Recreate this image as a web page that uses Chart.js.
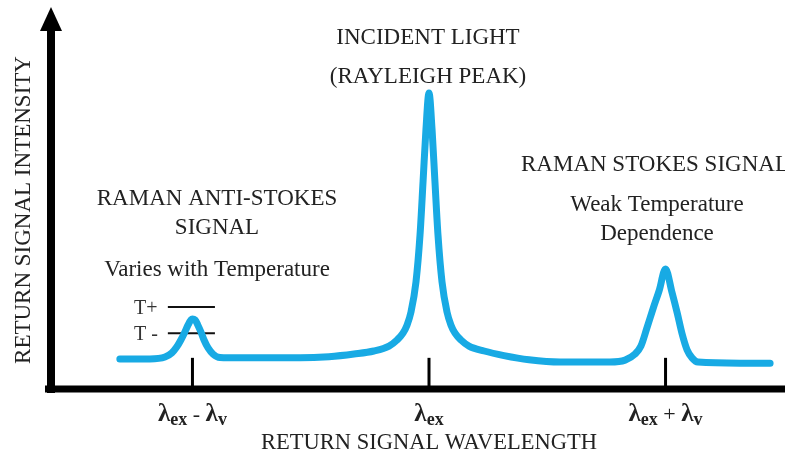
<!DOCTYPE html>
<html>
<head>
<meta charset="utf-8">
<script src="https://cdn.jsdelivr.net/npm/chart.js@4.4.0/dist/chart.umd.min.js"></script>
<style>
  html, body { margin: 0; padding: 0; background: #fff; }
  #chart { display: block; }
</style>
</head>
<body>
<canvas id="chart" width="785" height="455"></canvas>
<script>
// wavelength offset in units of the vibrational shift (0 = excitation line)
const waveX = [
  -1.307, -1.180, -1.116, -1.087, -1.066, -1.049, -1.032, -1.019, -1.006, -1.0,
  -0.989, -0.977, -0.964, -0.951, -0.934, -0.913, -0.884, -0.799, -0.545, -0.423,
  -0.317, -0.233, -0.169, -0.135, -0.110, -0.093, -0.076, -0.055, -0.038, -0.025,
  -0.013, 0, 0.013, 0.025, 0.038, 0.055, 0.076, 0.093, 0.110, 0.135,
  0.169, 0.233, 0.317, 0.423, 0.554, 0.765, 0.829, 0.871, 0.896, 0.922,
  0.947, 0.973, 1.0, 1.027, 1.049, 1.070, 1.091, 1.112, 1.137, 1.315, 1.442
];
// return signal intensity (arbitrary units, 0..100)
const intensity = [
  7.9, 7.9, 8.4, 9.5, 11.1, 12.9, 15.0, 16.8, 18.2, 18.4,
  18.2, 16.8, 15.0, 12.9, 10.8, 9.2, 8.3, 8.2, 8.2, 8.5,
  9.2, 10.0, 11.3, 12.9, 14.7, 16.8, 20.3, 28.2, 40.5, 54.7,
  68.2, 77.9, 68.2, 54.7, 40.5, 28.2, 20.3, 16.8, 14.7, 12.9,
  11.3, 10.0, 8.8, 7.7, 7.1, 7.1, 7.6, 9.2, 11.3, 16.2,
  21.1, 25.9, 31.6, 25.5, 20.1, 14.5, 10.3, 8.2, 7.1, 6.8, 6.8
];
const peakTicks = [-1, 0, 1];
const tickLabels = ["λ_ex - λ_v", "λ_ex", "λ_ex + λ_v"];
const tempLevelX = [-1.104, -0.905];
const tPlusY = [21.6, 21.6];
const tMinusY = [14.7, 14.7];
const tempLabels = ["T+", "T -"];

const xTitle = "RETURN SIGNAL WAVELENGTH";
const yTitle = "RETURN SIGNAL INTENSITY";

const SERIF = "'Liberation Serif', 'Times New Roman', serif";
const BLUE = "#18aae4";

const toPts = (xs, ys) => xs.map((x, i) => ({ x: x, y: ys[i] }));

// tick label like "λ_ex - λ_v": token after "_" is a subscript
function drawTickLabel(ctx, text, cx, base) {
  const parts = [];
  text.split(" ").forEach((w, i) => {
    if (i > 0) parts.push({ t: " ", sub: false });
    const s = w.split("_");
    parts.push({ t: s[0], sub: false });
    if (s[1]) parts.push({ t: s[1], sub: true });
  });
  const fontFor = (p) => (p.sub ? "bold 18px " : (p.t === "λ" ? "bold 25px " : "22px ")) + SERIF;
  let total = 0;
  parts.forEach((p) => { ctx.font = fontFor(p); p.w = ctx.measureText(p.t).width; total += p.w; });
  let x = cx - total / 2;
  ctx.textAlign = "left";
  ctx.textBaseline = "alphabetic";
  parts.forEach((p) => {
    ctx.font = fontFor(p);
    ctx.fillText(p.t, x, p.sub ? base + 4 : base);
    x += p.w;
  });
}

const diagram = {
  id: "diagram",
  afterDatasetsDraw(chart) {
    const ctx = chart.ctx;
    const xs = chart.scales.x, ys = chart.scales.y;
    const x0 = xs.left, y0 = ys.bottom;
    ctx.save();
    ctx.fillStyle = "#000";
    ctx.strokeStyle = "#000";

    // axes
    ctx.fillRect(45, y0 - 3.5, chart.width - 45, 7);
    ctx.fillRect(x0 - 4, 28, 8, y0 - 28 + 4);
    ctx.beginPath();
    ctx.moveTo(x0, 7);
    ctx.lineTo(x0 - 11, 31);
    ctx.lineTo(x0 + 11, 31);
    ctx.closePath();
    ctx.fill();

    // peak tick marks and labels
    ctx.fillStyle = "#222";
    peakTicks.forEach((v, i) => {
      const px = xs.getPixelForValue(v);
      ctx.lineWidth = 3;
      ctx.beginPath();
      ctx.moveTo(px, ys.getPixelForValue(8.2));
      ctx.lineTo(px, y0);
      ctx.stroke();
      drawTickLabel(ctx, tickLabels[i], px, 421);
    });

    // axis titles
    ctx.font = "22.5px " + SERIF;
    ctx.textAlign = "center";
    ctx.textBaseline = "alphabetic";
    ctx.fillText(xTitle, xs.getPixelForValue(0), 449);
    ctx.save();
    ctx.translate(30, 210);
    ctx.rotate(-Math.PI / 2);
    ctx.font = "23px " + SERIF;
    ctx.fillText(yTitle, 0, 0);
    ctx.restore();

    // annotations
    ctx.font = "23px " + SERIF;
    ctx.textAlign = "center";
    ctx.fillText("INCIDENT LIGHT", 428, 44);
    ctx.fillText("(RAYLEIGH PEAK)", 428, 83);
    ctx.fillText("RAMAN ANTI-STOKES", 217, 205);
    ctx.fillText("SIGNAL", 217, 234);
    ctx.fillText("Varies with Temperature", 217, 276);
    ctx.fillText("Weak Temperature", 657, 211);
    ctx.fillText("Dependence", 657, 240);
    ctx.textAlign = "left";
    ctx.fillText("RAMAN STOKES SIGNAL", 521, 171);

    // T+ / T- labels
    ctx.font = "20px " + SERIF;
    ctx.fillStyle = "#333";
    ctx.fillText(tempLabels[0], 134, ys.getPixelForValue(tPlusY[0]) + 7);
    ctx.fillText(tempLabels[1], 134, ys.getPixelForValue(tMinusY[0]) + 7);
    ctx.restore();
  }
};

new Chart(document.getElementById("chart").getContext("2d"), {
  type: "line",
  data: {
    datasets: [
      {
        data: toPts(waveX, intensity),
        borderColor: BLUE,
        borderWidth: 7,
        borderCapStyle: "round",
        borderJoinStyle: "round",
        cubicInterpolationMode: "monotone",
        pointRadius: 0,
        fill: false,
      },
      {
        data: toPts(tempLevelX, tPlusY),
        borderColor: "#111",
        borderWidth: 2,
        pointRadius: 0,
      },
      {
        data: toPts(tempLevelX, tMinusY),
        borderColor: "#111",
        borderWidth: 2,
        pointRadius: 0,
      },
    ],
  },
  options: {
    responsive: false,
    animation: false,
    devicePixelRatio: 1,
    layout: { padding: { left: 51, right: 0, top: 9, bottom: 66 } },
    plugins: { legend: { display: false }, tooltip: { enabled: false } },
    scales: {
      x: { type: "linear", min: -1.598, max: 1.505, display: false },
      y: { type: "linear", min: 0, max: 100, display: false },
    },
  },
  plugins: [diagram],
});
</script>
</body>
</html>
